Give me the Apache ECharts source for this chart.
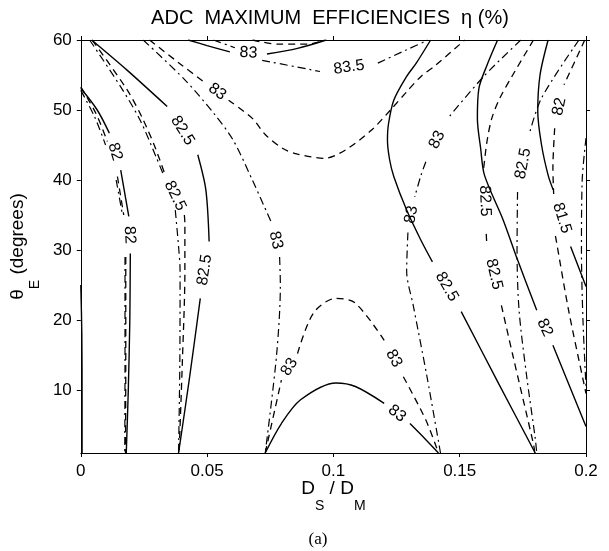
<!DOCTYPE html>
<html>
<head>
    <meta charset="utf-8"/>
    <title>ADC maximum efficiencies</title>
    <script src="https://cdn.jsdelivr.net/npm/echarts@6/dist/echarts.min.js"></script>
</head>
<body style="margin:0;background:#fff;">
<div id="main" style="width:609px;height:551px;"></div>
<script type="text/javascript">
    // x = Ds/Dm, y = theta_E (degrees). null = break in the line where a contour label sits
    var yTicks = [10, 20, 30, 40, 50, 60];

    // solid contours
    var solidA = [[0, 53.1], [0.0065, 50], [0.0113, 46.7], null, [0.0158, 41.4], [0.019, 34.8], null, [0.0196, 29.5], [0.0194, 20], [0.0188, 10], [0.018, 1]];
    var solidALabels = ['82', '82'];
    var solidB = [[0.0043, 60], [0.0183, 55.7], [0.0342, 50.5], null, [0.0463, 43.6], [0.0495, 38.6], [0.0508, 31.2], null, [0.0473, 23.1], [0.0431, 11.9], [0.0387, 1]];
    var solidBLabels = ['82.5', '82.5'];
    var solidTop = [[0.0425, 60], [0.05, 59.2], [0.059, 58.3], null, [0.0737, 58], [0.0858, 58.8], [0.0972, 60]];
    var solidTopLabels = ['83'];
    var solidArch = [[0.073, 1], [0.0794, 5.2], [0.087, 8.6], [0.101, 11], [0.1087, 10.5], [0.1201, 8.1], null, [0.1303, 5.2], [0.1366, 2.9], [0.1416, 1]];
    var solidArchLabels = ['83'];
    var solidE = [[0.1385, 60], [0.1328, 56.7], [0.129, 54.8], [0.1239, 51.4], [0.1218, 48], [0.1214, 45.7], [0.1222, 43], [0.1239, 40.5], [0.129, 35.7], [0.1345, 31.5], [0.1392, 28.3], null, [0.1506, 21.2], [0.165, 11.2], [0.1799, 1]];
    var solidELabels = ['82.5'];
    var solidH = [[0.165, 60], [0.1608, 56.4], [0.1576, 53.1], [0.157, 48.8], [0.1583, 44.5], [0.1598, 40.7], [0.1672, 34.3], [0.1729, 28.6], [0.1805, 21.4], null, [0.1869, 16.4], [0.2, 4.8]];
    var solidHLabels = ['82'];
    var solidM = [[0.185, 60], [0.1818, 55], [0.1809, 49.8], [0.1824, 45], [0.185, 40.7], [0.187, 38.6], null, [0.1939, 30.5], [0.2, 24.8]];
    var solidMLabels = ['81.5'];
    var solidEdge = [[0, 25], [0.0004, 18], [0.0005, 8], [0.0005, 1]];

    // dashed contours
    var dashA = [[0, 53.3], [0.006, 49.5], [0.0105, 45.5], null, [0.0145, 40.5], [0.017, 35], null, [0.0178, 29], [0.0178, 15], [0.0177, 1]];
    var dashB = [[0.0045, 60], [0.0183, 52.9], [0.0247, 48.6], [0.0298, 44.3], [0.0336, 40.5], null, [0.041, 35], [0.0412, 33.8], [0.0412, 27], [0.0402, 14], [0.0389, 1]];
    var dashBLabels = ['82.5'];
    var dashTop = [[0.068, 60], [0.078, 59.4], [0.09, 59.4], [0.0965, 60]];
    var dashSaddle = [[0.0272, 60], [0.04, 56.4], [0.0495, 53.8], null, [0.0585, 51.4], [0.0679, 48.8], [0.073, 46.5], [0.08, 44.5], [0.0858, 43.7], [0.0966, 43.1], [0.1048, 44.3], [0.115, 47.1], [0.1226, 50], [0.129, 52.6], [0.1347, 54.8], [0.1405, 56.4], [0.152, 60]];
    var dashSaddleLabels = ['83'];
    var dashArch = [[0.073, 1], [0.0794, 11.4], null, [0.0858, 15.2], [0.0921, 21], [0.101, 23.1], [0.1087, 22.4], [0.1201, 17.1], null, [0.1277, 11.9], [0.1366, 5.7], [0.1416, 1]];
    var dashArchLabels = ['83', '83'];
    var dashG = [[0.1792, 60], [0.171, 55], [0.1659, 51.7], [0.1627, 48.8], [0.1608, 45.5], [0.1595, 41.7], null, [0.1605, 32.3], [0.1607, 31], null, [0.1665, 22.1], [0.171, 15], [0.1793, 2.1], [0.1797, 1]];
    var dashGLabels = ['82.5', '82.5'];
    var dashN = [[0.1995, 60], [0.1913, 53.6], null, [0.1876, 47.4], [0.1869, 41.7], [0.1872, 38], null, [0.1879, 32], [0.1882, 31.4], [0.1931, 21.4], [0.199, 11.2], [0.2, 9.5]];
    var dashNLabels = ['82', ''];

    // dash-dot contours
    var dotA = [[0, 52.8], [0.0055, 49], [0.0098, 45], null, [0.014, 40], [0.0165, 35], null, [0.0175, 29], [0.0175, 15], [0.0174, 1]];
    var dotB = [[0.0035, 60], [0.0158, 53.3], [0.0234, 48.6], [0.0298, 43.3], [0.033, 40.5], null, [0.0374, 35.7], [0.0387, 30.5], [0.0393, 27], [0.0392, 14], [0.0387, 1]];
    var dotTop = [[0.0525, 60], [0.061, 58.9], null, [0.0718, 57.1], [0.0947, 55.5], null, [0.1176, 56.7], [0.129, 58.6], [0.1375, 60]];
    var dotTopLabels = ['', '83.5'];
    var dotC = [[0.0247, 60], [0.0412, 54.3], [0.0527, 49.5], [0.0603, 45.7], [0.0679, 40], [0.0756, 33.8], null, [0.0787, 29], [0.079, 25], [0.0775, 15], [0.073, 1]];
    var dotCLabels = ['83'];
    var dotF = [[0.1742, 60], [0.1595, 54.8], [0.1455, 48.9], null, [0.1366, 42.6], [0.1347, 40.7], [0.1322, 37.6], null, [0.1295, 32.5], [0.129, 27], [0.1316, 22.1], [0.137, 12], [0.1424, 1]];
    var dotFLabels = ['83', '83'];
    var dotK = [[0.1972, 60], [0.1824, 51.7], [0.1774, 46.4], null, [0.1729, 38.3], [0.1727, 30], [0.1735, 21.4], [0.1765, 12], [0.1799, 3.1], [0.1805, 1]];
    var dotKLabels = ['82.5'];
    var dotP = [[0.2, 46], [0.1985, 40], [0.1982, 30], [0.1988, 20], [0.2, 10.5]];

    var curves = [
        [solidA, solidALabels, 'solid'], [solidB, solidBLabels, 'solid'], [solidTop, solidTopLabels, 'solid'],
        [solidArch, solidArchLabels, 'solid'], [solidE, solidELabels, 'solid'], [solidH, solidHLabels, 'solid'],
        [solidM, solidMLabels, 'solid'], [solidEdge, [], 'solid'],
        [dashA, [], 'dash'], [dashB, dashBLabels, 'dash'], [dashTop, [], 'dash'], [dashSaddle, dashSaddleLabels, 'dash'],
        [dashArch, dashArchLabels, 'dash'], [dashG, dashGLabels, 'dash'], [dashN, dashNLabels, 'dash'],
        [dotA, [], 'dashdot'], [dotB, [], 'dashdot'], [dotTop, dotTopLabels, 'dashdot'], [dotC, dotCLabels, 'dashdot'],
        [dotF, dotFLabels, 'dashdot'], [dotK, dotKLabels, 'dashdot'], [dotP, [], 'dashdot']
    ];

    var font = '"Liberation Sans", Arial, Helvetica, sans-serif';
    var lineStyles = {
        solid: {color: '#000', width: 1.4, type: 'solid'},
        dash: {color: '#000', width: 1.3, type: [7, 5]},
        dashdot: {color: '#000', width: 1.2, type: [8, 4, 2, 4]}
    };

    var chart = echarts.init(document.getElementById('main'));

    var series = curves.map(function (c) {
        return {
            type: 'line',
            symbol: 'none',
            smooth: 0.3,
            silent: true,
            connectNulls: false,
            lineStyle: lineStyles[c[2]],
            data: c[0].map(function (p) { return p ? p : ['-', '-']; })
        };
    });
    series.push({
        type: 'scatter',
        id: 'labels',
        symbolSize: 2,
        silent: true,
        z: 10,
        itemStyle: {color: 'rgba(255,255,255,0)'},
        label: {show: true, position: 'inside', formatter: '{b}', color: '#000', opacity: 1, fontSize: 16, fontFamily: font},
        data: []
    });

    var tickStyle = {show: true, length: 4, lineStyle: {color: '#000'}};
    var lineAx = {show: true, onZero: false, lineStyle: {color: '#000', width: 1}};
    var nameRich = {
        m: {fontSize: 19, lineHeight: 19, verticalAlign: 'top', fontFamily: font, color: '#000'},
        s: {fontSize: 14, lineHeight: 14, verticalAlign: 'top', padding: [20, 0, 0, 0], fontFamily: font, color: '#000'}
    };

    chart.setOption({
        animation: false,
        backgroundColor: '#fff',
        grid: {left: 62, right: 23, top: 40, bottom: 98},
        xAxis: [{
            type: 'value', min: 0, max: 0.2, interval: 0.05, position: 'bottom',
            axisLine: lineAx, axisTick: tickStyle, splitLine: {show: false},
            axisLabel: {color: '#000', fontSize: 17, fontFamily: font, margin: 10},
            name: '{m|D}{s|S}{m| / D}{s|M}', nameLocation: 'middle', nameGap: 26, nameMoveOverlap: false,
            nameTextStyle: {rich: nameRich}
        }, {
            type: 'value', min: 0, max: 0.2, interval: 0.05, position: 'top',
            axisLine: lineAx, axisTick: tickStyle, splitLine: {show: false}, axisLabel: {show: false}
        }],
        yAxis: [{
            type: 'value', min: 1, max: 60, position: 'left',
            axisLine: lineAx, splitLine: {show: false},
            axisTick: {show: true, length: 4, lineStyle: {color: '#000'}, customValues: yTicks},
            axisLabel: {color: '#000', fontSize: 17, fontFamily: font, margin: 9, customValues: yTicks},
            name: '{m|θ}{s|E}{m| (degrees)}', nameLocation: 'middle', nameGap: 22,
            nameTextStyle: {rich: nameRich}
        }, {
            type: 'value', min: 1, max: 60, position: 'right',
            axisLine: lineAx, splitLine: {show: false}, axisLabel: {show: false},
            axisTick: {show: true, length: 4, lineStyle: {color: '#000'}, customValues: yTicks}
        }],
        graphic: [{
            type: 'text', x: 330, y: 18,
            style: {text: 'ADC  MAXIMUM  EFFICIENCIES  η (%)', font: '20px ' + font, fill: '#000', textAlign: 'center', textVerticalAlign: 'middle'}
        }, {
            type: 'text', x: 318, y: 540,
            style: {text: '(a)', font: '17px "Liberation Serif", "Times New Roman", serif', fill: '#000', textAlign: 'center', textVerticalAlign: 'middle'}
        }],
        series: series
    });

    // contour labels sit in the breaks, rotated along the line
    var labelData = [];
    curves.forEach(function (c) {
        var pts = c[0], texts = c[1], k = 0;
        for (var i = 1; i < pts.length - 1; i++) {
            if (pts[i] !== null) continue;
            var text = texts[k++];
            if (!text) continue;
            var a = pts[i - 1], b = pts[i + 1];
            var pa = chart.convertToPixel({gridIndex: 0}, a);
            var pb = chart.convertToPixel({gridIndex: 0}, b);
            var dx = pb[0] - pa[0], dy = pb[1] - pa[1];
            if (dx < 0) { dx = -dx; dy = -dy; }
            var ang = Math.atan2(-dy, dx) * 180 / Math.PI;
            labelData.push({
                name: text,
                value: [(a[0] + b[0]) / 2, (a[1] + b[1]) / 2],
                label: {rotate: ang}
            });
        }
    });
    chart.setOption({series: [{id: 'labels', data: labelData}]});
</script>
</body>
</html>
